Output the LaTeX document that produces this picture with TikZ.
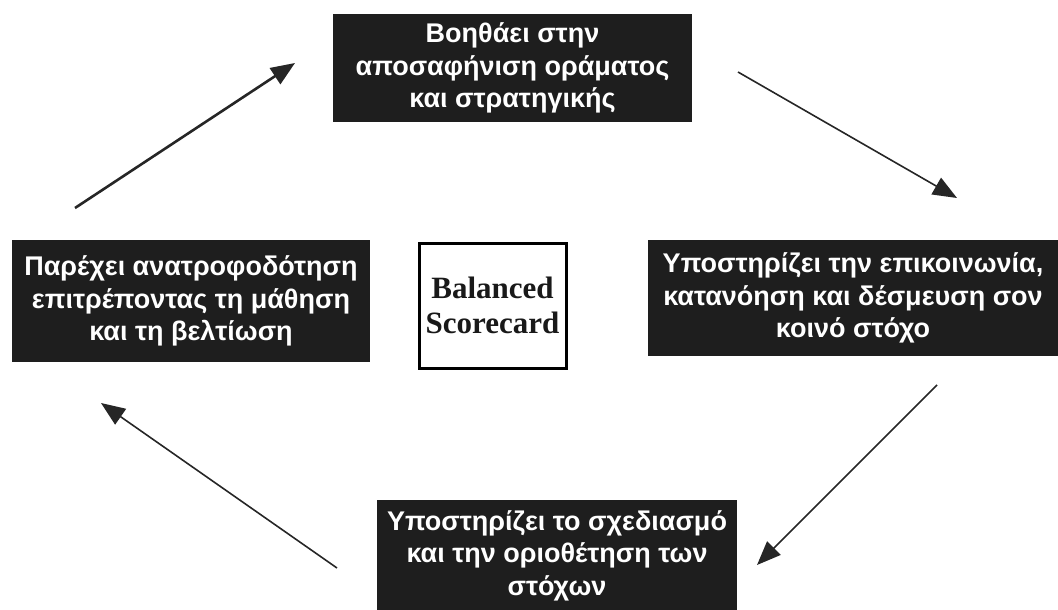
\documentclass[tikz,border=0pt]{standalone}
\usepackage{fontspec}
\setmainfont{Liberation Sans}
\newfontfamily\titleserif{Liberation Serif}
\usetikzlibrary{arrows.meta}
\definecolor{boxfill}{HTML}{1E1E1E}
\begin{document}
\begin{tikzpicture}[x=1pt,y=-1pt,
  stagebox/.style={fill=boxfill, text=white, align=center, inner sep=0pt,
    font=\fontsize{27}{32.5}\selectfont\bfseries},
  corebox/.style={draw=black, line width=3pt, fill=white, inner sep=0pt, align=center,
    font=\titleserif\fontsize{31}{35}\selectfont\bfseries, text=black!90},
  flow/.style={draw=black!85, line width=1.6pt, -{Triangle[length=24pt,width=19pt]}},
]
\useasboundingbox (0,0) rectangle (1058,610);

% the four stages of the cycle
\node[stagebox, minimum width=359, minimum height=108] (vision) at (512.5,68)
  {Βοηθάει στην\\αποσαφήνιση οράματος\\και στρατηγικής};
\node[stagebox, minimum width=410, minimum height=116] (commit) at (853,298)
  {Υποστηρίζει την επικοινωνία,\\κατανόηση και δέσμευση σον\\κοινό στόχο};
\node[stagebox, minimum width=360, anchor=north] (plan) at (557,500)
  {\rule{0pt}{30pt}Υποστηρίζει το σχεδιασμό\\και την οριοθέτηση των\\στόχων\rule[-26pt]{0pt}{0pt}};
\node[stagebox, minimum width=358, minimum height=122] (feedback) at (191,301)
  {Παρέχει ανατροφοδότηση\\επιτρέποντας τη μάθηση\\και τη βελτίωση};

% the centre
\node[corebox, minimum width=147, minimum height=125] (bsc) at (492.5,305.5)
  {Balanced\\Scorecard};

% arrow ends
\coordinate (a1s) at (75,208);  \coordinate (a1e) at (295,63);
\coordinate (a2s) at (738,72);  \coordinate (a2e) at (957,198);
\coordinate (a3s) at (937,385); \coordinate (a3e) at (757,565);
\coordinate (a4s) at (337,568); \coordinate (a4e) at (101,403);

\draw[flow, line width=2.6pt] (a1s) -- (a1e);
\draw[flow] (a2s) -- (a2e);
\draw[flow] (a3s) -- (a3e);
\draw[flow] (a4s) -- (a4e);
\end{tikzpicture}
\end{document}
